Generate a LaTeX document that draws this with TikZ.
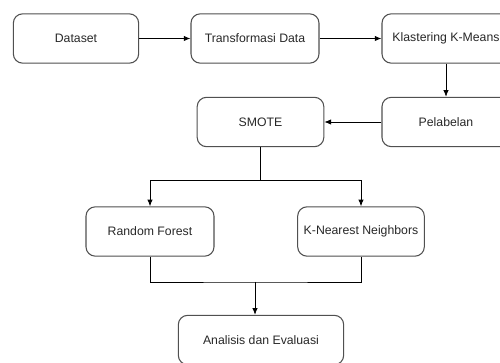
\documentclass[tikz,border=0pt]{standalone}
\usepackage{fontspec}
\setmainfont{Liberation Sans}
\usetikzlibrary{arrows.meta}

\tikzset{
  procbox/.style={draw={rgb,255:red,80;green,80;blue,80}, line width=0.8pt, rounded corners=7pt,
    fill=white, minimum width=96pt, minimum height=37pt, inner sep=1pt,
    font=\fontsize{9.2}{11}\selectfont, text={rgb,255:red,40;green,40;blue,40}},
  flow/.style={line width=0.6pt, -{Latex[length=5pt,width=4pt]}},
  plain/.style={line width=0.6pt}
}

\begin{document}
\begin{tikzpicture}[x=0.75pt,y=0.75pt,yscale=-1,xscale=1]
\useasboundingbox (0,0) rectangle (500,363);
\clip (0,0) rectangle (500,363);

% boxes
\node[procbox, minimum width=94pt] (dataset) at (76,38.5) {Dataset};
\node[procbox] (transformasi) at (255,38.5) {Transformasi Data};
\node[procbox] (klastering) at (446,38.5) {Klastering K-Means};
\node[procbox] (pelabelan) at (446,122) {Pelabelan};
\node[procbox, minimum width=95pt] (smote) at (260.5,122) {SMOTE};
\node[procbox] (rforest) at (150,231.5) {Random Forest};
\node[procbox, minimum width=95pt] (knn) at (361,231.5) {K-Nearest Neighbors};
\node[procbox, minimum width=124pt] (analisis) at (261,340) {Analisis dan Evaluasi};

% joints
\coordinate (split) at (260.5,180);
\coordinate (merge) at (255,282);

% arrows
\draw[flow] (dataset) -- (transformasi);
\draw[flow] (transformasi) -- (klastering);
\draw[flow] (klastering) -- (pelabelan);
\draw[flow] (pelabelan) -- (smote);
\draw[plain] (smote.south) -- (split);
\draw[flow] (split) -| (rforest.north);
\draw[flow] (split) -| (knn.north);
\draw[plain] (rforest.south) |- (merge) -| (knn.south);
\draw[flow] (merge) -- (merge |- analisis.north);

\end{tikzpicture}
\end{document}
